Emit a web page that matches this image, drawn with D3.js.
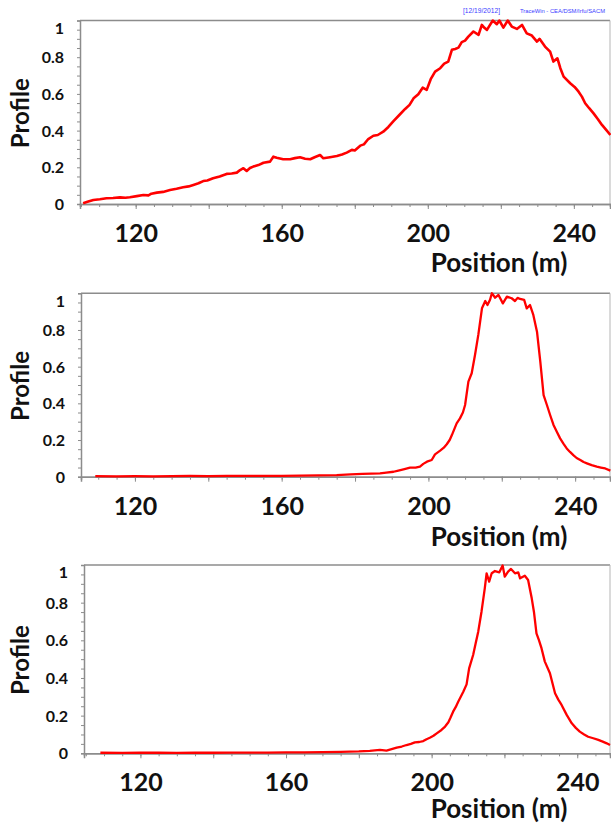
<!DOCTYPE html>
<html>
<head>
<meta charset="utf-8">
<script src="https://cdn.jsdelivr.net/npm/d3@7"></script>
<style>
  html, body { margin: 0; padding: 0; background: #fff; }
  svg { display: block; }
</style>
</head>
<body>
<svg id="chart" width="611" height="827"></svg>
<script>
// ---------- DATA ----------
const xTickLabels = [120, 160, 200, 240];
const yTickLabels = [0, 0.2, 0.4, 0.6, 0.8, 1];
const xAxisTitle = "Position (m)";
const yAxisTitle = "Profile";
const stampDate = "[12/19/2012]";
const stampSource = "TraceWin - CEA/DSM/Irfu/SACM";

const pos1 = [105.6,106.8,108.4,110.2,112.0,113.8,115.7,117.2,118.4,120.3,122.1,123.5,124.3,125.8,127.5,129.4,131.2,133.0,134.5,135.8,137.2,138.5,139.6,141.2,143.0,144.9,146.3,147.7,148.6,149.5,150.4,151.3,152.2,153.6,155.0,156.8,157.7,158.6,160.4,162.3,163.6,165.0,166.4,167.8,169.0,170.5,171.4,173.2,175.1,176.5,177.8,179.2,180.0,181.5,182.5,183.7,185.1,186.3,187.8,189.2,190.6,192.2,193.8,195.0,196.1,197.4,198.6,199.7,200.8,202.0,203.4,204.5,205.6,206.6,207.5,208.4,209.3,210.2,211.1,212.5,213.9,214.8,215.5,216.2,217.0,217.8,218.9,219.6,220.7,221.9,223.0,224.4,225.8,227.1,228.5,229.9,230.6,232.1,233.5,234.4,235.5,236.3,237.2,239.0,240.2,241.3,242.2,243.1,244.2,245.4,246.6,247.7,248.8,250.0];
const val1 = [0.004,0.012,0.022,0.026,0.031,0.033,0.036,0.034,0.037,0.043,0.049,0.047,0.056,0.062,0.066,0.076,0.083,0.091,0.096,0.104,0.113,0.125,0.128,0.140,0.150,0.164,0.166,0.171,0.185,0.195,0.180,0.196,0.204,0.212,0.225,0.231,0.258,0.252,0.244,0.244,0.250,0.255,0.247,0.244,0.255,0.267,0.249,0.255,0.262,0.270,0.280,0.295,0.292,0.318,0.325,0.354,0.372,0.376,0.394,0.420,0.452,0.485,0.518,0.540,0.576,0.598,0.634,0.622,0.680,0.721,0.740,0.765,0.776,0.840,0.845,0.852,0.882,0.890,0.912,0.940,0.922,0.976,0.960,0.949,0.975,1.000,0.980,1.000,0.961,1.000,0.967,0.954,0.976,0.930,0.918,0.885,0.900,0.858,0.830,0.776,0.794,0.740,0.694,0.658,0.638,0.612,0.585,0.549,0.522,0.494,0.462,0.431,0.405,0.376];

const pos2 = [109.2,115,120,125,130,135,140,145,150,155,160,165,170,175,178.8,182,184.5,186.8,188.5,190.5,191.8,193.2,195.0,196.5,197.7,198.6,199.6,200.9,201.8,203.2,204.2,205.0,205.8,206.4,207.7,208.6,209.4,210.0,210.9,211.8,212.7,213.6,214.6,215.5,216.1,216.8,217.3,218.2,219.1,220.3,221.4,222.7,223.6,224.3,225.0,226.1,226.8,227.7,228.6,229.6,230.5,231.4,232.3,233.2,234.1,235.0,235.9,236.8,237.7,238.6,239.5,240.4,241.4,242.3,243.2,244.5,245.9,247.0,248.2,249.6];
const val2 = [0.003,0.002,0.003,0.002,0.003,0.004,0.003,0.004,0.004,0.005,0.005,0.006,0.007,0.009,0.013,0.015,0.017,0.018,0.022,0.027,0.033,0.040,0.049,0.050,0.055,0.070,0.082,0.091,0.122,0.142,0.158,0.177,0.200,0.227,0.291,0.318,0.350,0.391,0.518,0.564,0.664,0.773,0.918,0.958,0.936,0.965,1.000,0.976,0.991,0.945,0.982,0.973,0.958,0.975,0.969,0.964,0.918,0.936,0.882,0.791,0.627,0.445,0.391,0.335,0.282,0.245,0.209,0.180,0.154,0.135,0.118,0.102,0.091,0.080,0.073,0.063,0.055,0.050,0.045,0.033];

const pos3 = [109.0,115,120,125,130,135,140,145,150,155,160,165,170,175,180,183,185.8,187.6,189,190.4,191.8,193.1,194.3,195.4,196.6,197.7,198.6,199.5,200.5,201.4,202.7,203.7,204.6,205.2,205.9,206.6,207.3,208.0,208.7,209.6,210.3,211.4,212.1,212.8,213.7,214.6,215.1,215.8,216.5,217.4,218.6,219.5,220.1,221.0,221.8,222.9,223.8,224.3,225.6,226.5,227.5,228.1,228.8,229.5,230.2,231.1,232.5,233.9,234.8,235.7,237.1,238.5,239.6,240.7,241.9,243.0,244.4,245.8,247.0,248.1,249.0];
const val3 = [0.003,0.002,0.003,0.003,0.002,0.003,0.003,0.004,0.004,0.004,0.005,0.005,0.006,0.008,0.010,0.013,0.018,0.014,0.022,0.030,0.036,0.044,0.050,0.058,0.060,0.065,0.075,0.083,0.093,0.106,0.124,0.142,0.165,0.190,0.221,0.245,0.274,0.300,0.327,0.366,0.451,0.522,0.585,0.646,0.752,0.876,0.956,0.912,0.956,0.968,0.961,0.997,0.938,0.965,0.979,0.956,0.961,0.929,0.943,0.920,0.823,0.752,0.637,0.600,0.557,0.487,0.425,0.319,0.285,0.257,0.204,0.159,0.135,0.115,0.100,0.088,0.080,0.071,0.062,0.053,0.044];

// ---------- LAYOUT ----------
const panels = [
  { pos: pos1, val: val1, left: 80, right: 610, top: 20.5, bottom: 204,   xmin: 104.75, xmax: 249.9, lw: 2.6, titleY: 272 },
  { pos: pos2, val: val2, left: 81, right: 610, top: 293.3, bottom: 476.7, xmin: 105.3, xmax: 249.5, lw: 2.3, titleY: 546 },
  { pos: pos3, val: val3, left: 84, right: 610, top: 565, bottom: 753.3,  xmin: 104.5, xmax: 249.0, lw: 2.3, titleY: 818 }
];

const svg = d3.select("#chart");
const FONT = "Lato, 'Open Sans', sans-serif";
const AXIS_COL = "#8c8c8c";

panels.forEach(p => {
  const x = d3.scaleLinear().domain([p.xmin, p.xmax]).range([p.left, p.right]);
  const y = d3.scaleLinear().domain([0, 1]).range([p.bottom, p.top]);
  const g = svg.append("g");

  // frame (top + right)
  g.append("line").attr("x1", p.left).attr("x2", p.right).attr("y1", p.top).attr("y2", p.top)
    .attr("stroke", AXIS_COL).attr("stroke-width", 1.5);
  g.append("line").attr("x1", p.right).attr("x2", p.right).attr("y1", p.top).attr("y2", p.bottom)
    .attr("stroke", "#b5b5b5").attr("stroke-width", 1);

  // minor ticks
  const xMinor = d3.range(105, 250.01, 5).filter(v => v >= p.xmin && v <= p.xmax);
  const yMinor = d3.range(0, 1.0001, 0.05);
  const xAxisMinor = d3.axisBottom(x).tickValues(xMinor).tickSize(3).tickFormat("");
  const yAxisMinor = d3.axisLeft(y).tickValues(yMinor).tickSize(3).tickFormat("");
  const xaM = g.append("g").attr("transform", `translate(0,${p.bottom})`).call(xAxisMinor);
  const yaM = g.append("g").attr("transform", `translate(${p.left},0)`).call(yAxisMinor);

  // major ticks (every 20 on x)
  const xMajor = d3.range(120, 250, 20);
  const xAxisMajor = d3.axisBottom(x).tickValues(xMajor).tickSize(5).tickFormat("");
  const xaJ = g.append("g").attr("transform", `translate(0,${p.bottom})`).call(xAxisMajor);

  [xaM, yaM, xaJ].forEach(a => {
    a.selectAll("path").attr("stroke", AXIS_COL).attr("stroke-width", 1.5);
    a.selectAll("line").attr("stroke", AXIS_COL).attr("stroke-width", 1);
  });

  // x tick labels
  const xLab = d3.axisBottom(x).tickValues(xTickLabels).tickSize(0).tickPadding(0).tickFormat(d3.format("d"));
  const xl = g.append("g").attr("transform", `translate(0,${p.bottom})`).call(xLab);
  xl.select("path").remove();
  xl.selectAll("text").attr("dy", null).attr("y", 38)
    .style("font-family", FONT).style("font-weight", "bold").style("font-size", "25px").attr("fill", "#111");

  // y tick labels
  const yLab = d3.axisLeft(y).tickValues(yTickLabels).tickSize(0).tickPadding(16).tickFormat(d => d === 0 || d === 1 ? d3.format("d")(d) : d3.format(".1f")(d));
  const yl = g.append("g").attr("transform", `translate(${p.left},0)`).call(yLab);
  yl.select("path").remove();
  yl.selectAll("text")
    .attr("dy", d => d === 1 ? "0.8em" : "0.35em")
    .style("font-family", FONT).style("font-weight", "bold").style("font-size", "16px").attr("fill", "#111");

  // axis titles
  g.append("text").attr("x", 499).attr("y", p.titleY).attr("text-anchor", "middle")
    .style("font-family", FONT).style("font-weight", "bold").style("font-size", "26px").attr("fill", "#111")
    .text(xAxisTitle);
  const cy = (p.top + p.bottom) / 2;
  g.append("text").attr("transform", `translate(29,${cy + 1}) rotate(-90)`).attr("text-anchor", "middle")
    .style("font-family", FONT).style("font-weight", "bold").style("font-size", "24px").attr("fill", "#111")
    .text(yAxisTitle);

  // curve
  const data = p.pos.map((v, i) => [v, p.val[i]]);
  g.append("path").datum(data)
    .attr("fill", "none").attr("stroke", "#ff0000").attr("stroke-width", p.lw).attr("stroke-linejoin", "round")
    .attr("d", d3.line().x(d => x(d[0])).y(d => y(d[1])));
});

// stamp text
svg.append("text").attr("x", 463).attr("y", 12.5)
  .attr("textLength", 37).attr("lengthAdjust", "spacingAndGlyphs")
  .style("font-family", "'Liberation Sans', sans-serif").style("font-size", "6.5px").attr("fill", "#3b3bff")
  .text(stampDate);
svg.append("text").attr("x", 520).attr("y", 12.5)
  .attr("textLength", 85).attr("lengthAdjust", "spacingAndGlyphs")
  .style("font-family", "'Liberation Sans', sans-serif").style("font-size", "6px").attr("fill", "#3b3bff")
  .text(stampSource);
</script>
</body>
</html>
